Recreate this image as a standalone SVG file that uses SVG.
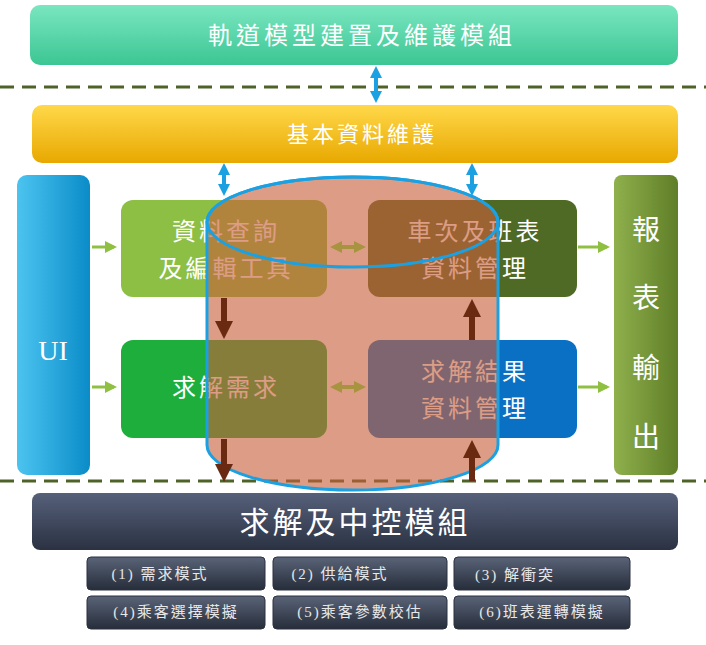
<svg xmlns="http://www.w3.org/2000/svg" width="706" height="645" viewBox="0 0 706 645">
<style>
text{font-family:"Liberation Serif","Noto Sans CJK TC",serif;fill:#fff;text-anchor:middle;dominant-baseline:central}
.b{font-size:24px;letter-spacing:3px}
.s{font-size:15px;fill:#e8e8e8;letter-spacing:2px}
.sb{stroke:#2a3140;stroke-width:1}
.dash{stroke:#4f6228;stroke-width:3;stroke-dasharray:14 8}
</style>
<defs>
<linearGradient id="gT" x1="0" y1="0" x2="0" y2="1"><stop offset="0" stop-color="#7ae6c0"/><stop offset="1" stop-color="#3cc694"/></linearGradient>
<linearGradient id="gY" x1="0" y1="0" x2="0" y2="1"><stop offset="0" stop-color="#ffd84a"/><stop offset="1" stop-color="#e8a800"/></linearGradient>
<linearGradient id="gU" x1="0" y1="0" x2="1" y2="0"><stop offset="0" stop-color="#4cc4f0"/><stop offset="1" stop-color="#0a8cc8"/></linearGradient>
<linearGradient id="gR" x1="0" y1="0" x2="1" y2="0"><stop offset="0" stop-color="#8fb04c"/><stop offset="1" stop-color="#5f7e28"/></linearGradient>
<linearGradient id="gD" x1="0" y1="0" x2="0" y2="1"><stop offset="0" stop-color="#56607a"/><stop offset="1" stop-color="#2a3242"/></linearGradient>
<linearGradient id="gS" x1="0" y1="0" x2="0" y2="1"><stop offset="0" stop-color="#5a6478"/><stop offset="1" stop-color="#262d3a"/></linearGradient>
<marker id="ag" markerWidth="4" markerHeight="4" refX="3" refY="2" orient="auto"><path d="M0,0L4,2L0,4z" fill="#8fc042"/></marker>
<marker id="ab" markerWidth="3" markerHeight="3" refX="2" refY="1.5" orient="auto"><path d="M0,0L3,1.5L0,3z" fill="#6a2a12"/></marker>
<marker id="ac" markerWidth="3" markerHeight="3" refX="2" refY="1.5" orient="auto-start-reverse"><path d="M0,0L3,1.5L0,3z" fill="#1ba1e2"/></marker>
<marker id="ao" markerWidth="3" markerHeight="3" refX="2" refY="1.5" orient="auto-start-reverse"><path d="M0,0L3,1.5L0,3z" fill="#a89440"/></marker>
</defs>
<line class="dash" x1="0" y1="87" x2="706" y2="87"/>
<line class="dash" x1="0" y1="481" x2="706" y2="481"/>
<g id="top"><rect x="30" y="5" width="648" height="60" rx="10" fill="url(#gT)"/><text x="362" y="36" style="font-size:24px;letter-spacing:4px">軌道模型建置及維護模組</text></g>
<g id="basic"><rect x="32" y="105" width="646" height="58" rx="10" fill="url(#gY)"/><text x="362" y="134" style="font-size:22px;letter-spacing:3px">基本資料維護</text></g>
<g id="ui"><rect x="17" y="175" width="73" height="300" rx="10" fill="url(#gU)"/><text x="53" y="350" style="font-size:28px">UI</text></g>
<g id="report"><rect x="614" y="175" width="64" height="300" rx="8" fill="url(#gR)"/>
<text x="646" y="230" style="font-size:28px">報</text><text x="646" y="298" style="font-size:28px">表</text><text x="646" y="368" style="font-size:28px">輸</text><text x="646" y="437" style="font-size:28px">出</text></g>
<g id="b1"><rect x="121" y="200" width="206" height="97" rx="12" fill="#8cbf44"/><text class="b" x="226" y="232">資料查詢</text><text class="b" x="226" y="269">及編輯工具</text></g>
<g id="b2"><rect x="368" y="200" width="209" height="97" rx="12" fill="#4f6a24"/><text class="b" x="475" y="232">車次及班表</text><text class="b" x="475" y="269">資料管理</text></g>
<g id="b3"><rect x="121" y="340" width="206" height="98" rx="12" fill="#1eae3c"/><text class="b" x="226" y="388">求解需求</text></g>
<g id="b4"><rect x="368" y="340" width="209" height="98" rx="12" fill="#0a70c4"/><text class="b" x="475" y="372">求解結果</text><text class="b" x="475" y="409">資料管理</text></g>
<g id="cylinder">
<path d="M207,222 A145.5,45 0 0 1 498,222 L498,445 A145.5,45 0 0 1 207,445 Z" fill="#c8603a" fill-opacity="0.62" stroke="#1ba1e2" stroke-width="3"/>
<ellipse cx="352.5" cy="222" rx="145.5" ry="45" fill="none" stroke="#1ba1e2" stroke-width="3"/>
</g>
<g id="connectors" fill="none">
<line x1="376" y1="70" x2="376" y2="99" stroke="#1ba1e2" stroke-width="4" marker-start="url(#ac)" marker-end="url(#ac)"/>
<line x1="224" y1="167" x2="224" y2="192" stroke="#1ba1e2" stroke-width="4" marker-start="url(#ac)" marker-end="url(#ac)"/>
<line x1="472" y1="167" x2="472" y2="192" stroke="#1ba1e2" stroke-width="4" marker-start="url(#ac)" marker-end="url(#ac)"/>
<line x1="92" y1="247" x2="114" y2="247" stroke="#8fc042" stroke-width="3" marker-end="url(#ag)"/>
<line x1="92" y1="387" x2="114" y2="387" stroke="#8fc042" stroke-width="3" marker-end="url(#ag)"/>
<line x1="578" y1="247" x2="607" y2="247" stroke="#8fc042" stroke-width="3" marker-end="url(#ag)"/>
<line x1="578" y1="387" x2="607" y2="387" stroke="#8fc042" stroke-width="3" marker-end="url(#ag)"/>
<line x1="224" y1="298" x2="224" y2="333" stroke="#6a2a12" stroke-width="6" marker-end="url(#ab)"/>
<line x1="224" y1="439" x2="224" y2="476" stroke="#6a2a12" stroke-width="6" marker-end="url(#ab)"/>
<line x1="472" y1="340" x2="472" y2="305" stroke="#6a2a12" stroke-width="6" marker-end="url(#ab)"/>
<line x1="472" y1="481" x2="472" y2="446" stroke="#6a2a12" stroke-width="6" marker-end="url(#ab)"/>
<line x1="334" y1="247" x2="362" y2="247" stroke="#a89440" stroke-width="4" marker-start="url(#ao)" marker-end="url(#ao)"/>
<line x1="334" y1="387" x2="362" y2="387" stroke="#a89440" stroke-width="4" marker-start="url(#ao)" marker-end="url(#ao)"/>
</g>
<g id="ctrl"><rect x="32" y="493" width="646" height="57" rx="8" fill="url(#gD)"/><text x="355" y="522" style="font-size:30px;letter-spacing:3px">求解及中控模組</text></g>
<g id="m1"><rect class="sb" x="87" y="557" width="178" height="33" rx="4" fill="url(#gS)"/><text class="s" x="160" y="574">(1) 需求模式</text></g>
<g id="m2"><rect class="sb" x="273" y="557" width="174" height="33" rx="4" fill="url(#gS)"/><text class="s" x="340" y="574">(2) 供給模式</text></g>
<g id="m3"><rect class="sb" x="454" y="557" width="176" height="33" rx="4" fill="url(#gS)"/><text class="s" x="515" y="575">(3) 解衝突</text></g>
<g id="m4"><rect class="sb" x="87" y="596" width="178" height="33" rx="4" fill="url(#gS)"/><text class="s" x="176" y="612">(4)乘客選擇模擬</text></g>
<g id="m5"><rect class="sb" x="273" y="596" width="174" height="33" rx="4" fill="url(#gS)"/><text class="s" x="360" y="612">(5)乘客參數校估</text></g>
<g id="m6"><rect class="sb" x="454" y="596" width="176" height="33" rx="4" fill="url(#gS)"/><text class="s" x="542" y="612">(6)班表運轉模擬</text></g>
</svg>
